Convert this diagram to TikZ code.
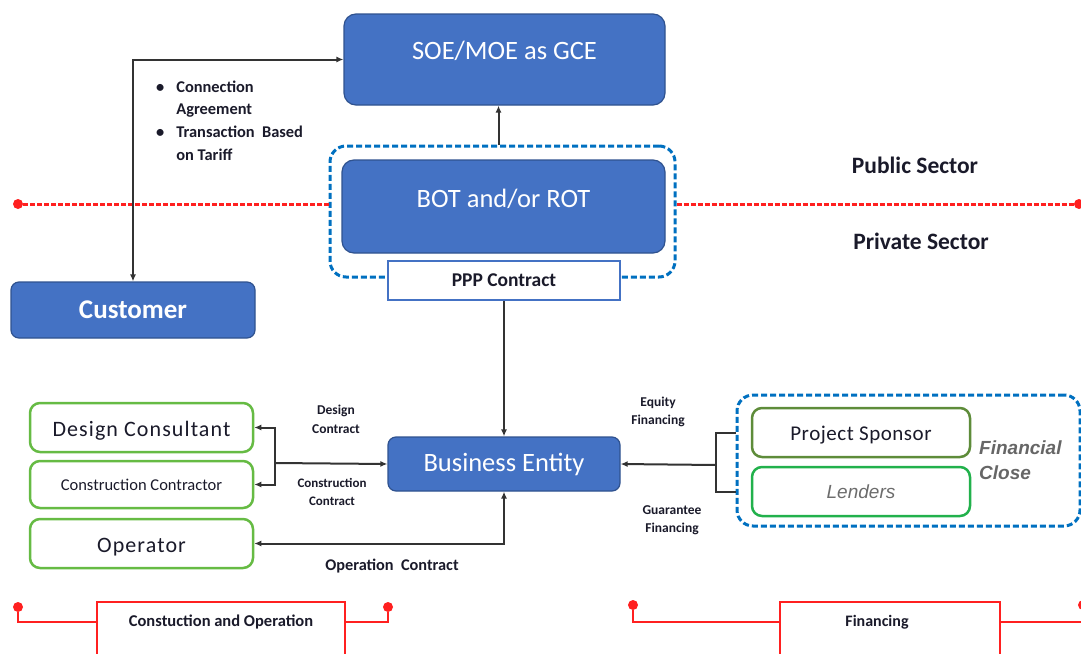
\documentclass[tikz,border=0pt]{standalone}
\usepackage{fontspec}
\setmainfont{Carlito}
\newfontfamily\arialf{Liberation Sans}
\newfontfamily\spaced[LetterSpace=5]{Carlito}
\newfontfamily\lspaced[LetterSpace=2.5]{Carlito}
\usetikzlibrary{arrows.meta}
\definecolor{bfill}{HTML}{4472C4}
\definecolor{bdraw}{HTML}{2F528F}
\definecolor{dblue}{HTML}{0070C0}
\definecolor{gline}{HTML}{66BB44}
\definecolor{gsponsor}{HTML}{5E8C3A}
\definecolor{glend}{HTML}{22B14C}
\definecolor{txt}{HTML}{1A1A2A}
\definecolor{rline}{HTML}{FF2020}
\definecolor{cline}{HTML}{333333}
\tikzset{
  bluebox/.style={draw=bdraw, line width=1.2pt, fill=bfill, rounded corners=12pt, text=white, inner sep=0pt},
  greenbox/.style={draw=gline, line width=2.5pt, fill=white, rounded corners=10pt, text=txt, inner sep=0pt},
  dgroup/.style={draw=dblue, line width=3pt, dash pattern=on 6pt off 3pt, rounded corners=16pt, inner sep=0pt},
  conn/.style={draw=cline, line width=2pt, >={Latex[length=7pt,width=6pt]}},
  reddash/.style={draw=rline, line width=3pt, dash pattern=on 5pt off 2pt},
  redline/.style={draw=rline, line width=2pt},
  reddot/.style={circle, fill=rline, minimum size=10pt, inner sep=0pt},
  redbox/.style={draw=rline, line width=2pt, fill=white, inner sep=0pt},
  lbl/.style={text=txt, font=\bfseries\fontsize{13.5}{18.5}\selectfont, align=center, inner sep=0pt},
}
\begin{document}
\begin{tikzpicture}[x=1pt, y=-1pt]
\useasboundingbox (0,0) rectangle (1081,653);
% red divider dots
\node[reddot] (ld) at (18,204) {};
\node[reddot] (rd) at (1079,204) {};
% top boxes
\node[bluebox, minimum width=321pt, minimum height=91pt, font=\fontsize{26.5}{30}\selectfont] (soe) at (504.5,59.5) {\raisebox{9pt}[\height][\depth]{SOE/MOE as GCE}};
\node[dgroup, minimum width=345pt, minimum height=131pt] (botg) at (502.5,211.5) {};
\node[bluebox, minimum width=323pt, minimum height=93pt, font=\fontsize{26.5}{30}\selectfont] (bot) at (503.5,206.5) {\raisebox{8pt}[\height][\depth]{BOT and/or ROT}};
\node[draw=bfill, line width=1.5pt, fill=white, minimum width=232pt, minimum height=39pt, inner sep=0pt, text=txt, font=\bfseries\fontsize{19.5}{22}\selectfont] (ppp) at (504,280.5) {PPP Contract};
\draw[reddash] (ld) -- (botg.west |- ld);
\draw[reddash] (botg.east |- rd) -- (rd);
\node[text=txt, font=\bfseries\fontsize{23.5}{26}\selectfont] (pub) at (915,165) {Public Sector};
\node[text=txt, font=\bfseries\fontsize{23.5}{26}\selectfont] (priv) at (921,241) {Private Sector};
% customer
\node[bluebox, rounded corners=8pt, minimum width=244pt, minimum height=56pt, font=\bfseries\fontsize{27}{30}\selectfont] (cust) at (133,310) {Customer};
\node[anchor=north west, text=txt, inner sep=0pt, font=\bfseries\fontsize{16.4}{22.7}\selectfont] (bul) at (156,76) {\begin{tabular}{@{}l@{\hspace{12pt}}l@{}}\textbullet & Connection\\ & Agreement\\ \textbullet & Transaction\ \ Based\\ & on Tariff\end{tabular}};
% business entity
\node[bluebox, rounded corners=8pt, minimum width=232pt, minimum height=54pt, font=\fontsize{26.5}{30}\selectfont] (be) at (504,464) {Business Entity};
% left boxes
\node[greenbox, minimum width=223pt, minimum height=49pt, font=\spaced\fontsize{22}{24}\selectfont] (dc) at (141.5,427.5) {\raisebox{-3pt}[\height][\depth]{Design Consultant}};
\node[greenbox, minimum width=223pt, minimum height=47pt, font=\fontsize{16.5}{18}\selectfont] (cc) at (141.5,484.5) {Construction Contractor};
\node[greenbox, minimum width=223pt, minimum height=49pt, font=\spaced\fontsize{22}{24}\selectfont] (op) at (141.5,543.5) {\raisebox{-4pt}[\height][\depth]{Operator}};
% right boxes
\node[dgroup, minimum width=343pt, minimum height=131pt] (fing) at (908.5,460.5) {};
\node[greenbox, draw=gsponsor, minimum width=218pt, minimum height=49pt, font=\lspaced\fontsize{21}{24}\selectfont] (ps) at (861,432.5) {\raisebox{-3pt}[\height][\depth]{Project Sponsor}};
\node[greenbox, draw=glend, minimum width=218pt, minimum height=49pt, text=gray!85!black, font=\arialf\itshape\fontsize{19}{21}\selectfont] (len) at (861,491.5) {Lenders};
\node[anchor=north west, inner sep=0pt, align=left, text=black!60, font=\arialf\bfseries\itshape\fontsize{19}{25}\selectfont] (fc) at (979,441) {Financial\\Close};
% connectors
\draw[conn,<->] (soe.west) -| (cust.north);
\draw[conn,->] ([xshift=-4pt]botg.north) -- ([xshift=-4pt]botg.north |- soe.south);
\draw[conn,->] (ppp.south) -- (be.north);
\coordinate (bj) at (275,463);
\draw[conn,->] (bj) -- (be.west);
\draw[conn,->] (bj) |- (dc.east);
\draw[conn,->] (bj) |- (cc.east);
\draw[conn,<->] (op.east) -| (be.south);
\coordinate (fj) at (716,465);
\draw[conn,->] (fj) -- (be.east);
\draw[conn] (fj) |- (fing.west |- ps.west);
\draw[conn] (fj) |- (fing.west |- len.west);
% connector labels
\node[lbl] (dcl) at (336,419.5) {Design\\Contract};
\node[lbl, font=\bfseries\fontsize{13}{18}\selectfont] (ccl) at (332,492) {Construction\\Contract};
\node[lbl, font=\bfseries\fontsize{16.3}{18}\selectfont] (opl) at (392,566) {Operation\ \ Contract};
\node[lbl] (eql) at (658,412) {Equity\\Financing};
\node[lbl] (gfl) at (672,520) {Guarantee\\Financing};
% bottom
\node[redbox, minimum width=248pt, minimum height=100pt] (co) at (221,652) {};
\node[text=txt, font=\bfseries\fontsize{16.5}{18}\selectfont] (cot) at (221,622) {Constuction and Operation};
\node[reddot] (b1) at (18,607) {};
\node[reddot] (b2) at (388,607) {};
\draw[redline] (b1) |- (co.west |- cot);
\draw[redline] (co.east |- cot) -| (b2);
\node[redbox, minimum width=220pt, minimum height=100pt] (fin) at (890,652) {};
\node[text=txt, font=\bfseries\fontsize{16}{18}\selectfont] (fint) at (877,622) {Financing};
\node[reddot] (b3) at (633,605) {};
\node[reddot] (b4) at (1083,605) {};
\draw[redline] (b3) |- (fin.west |- fint);
\draw[redline] (fin.east |- fint) -| (b4);
\end{tikzpicture}
\end{document}
